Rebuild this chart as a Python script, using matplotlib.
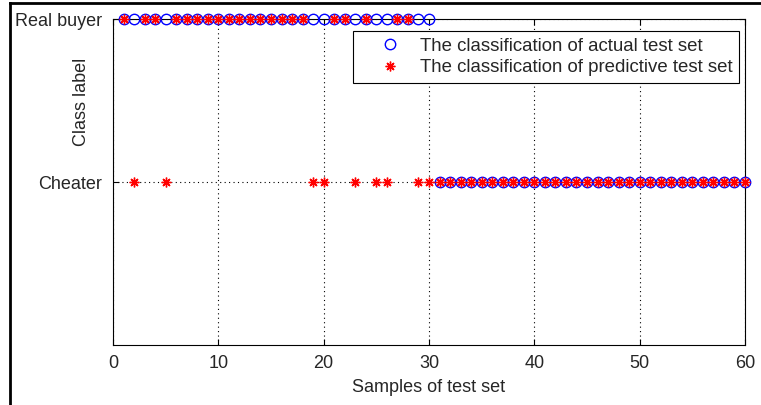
import matplotlib
matplotlib.use("Agg")
import matplotlib.pyplot as plt
from matplotlib.lines import Line2D
import numpy as np

plt.rcParams['font.family'] = ['Liberation Sans', 'DejaVu Sans']

# Data: class labels, 2 = Real buyer, 1 = Cheater
samples = list(range(1, 61))
actual = [2] * 30 + [1] * 30
pred_cheater_in_first_half = [2, 5, 19, 20, 23, 25, 26, 29, 30]
predicted = [1 if (s in pred_cheater_in_first_half or s > 30) else 2 for s in samples]

ytick_vals = [1, 2]
ytick_labels = ['Cheater', 'Real buyer']
xtick_vals = [0, 10, 20, 30, 40, 50, 60]

TXT = '#262626'
FS = 13

fig = plt.figure(figsize=(7.61, 4.05), dpi=100)
ax = fig.add_axes([0.1485, 0.148, 0.979 - 0.1485, 0.953 - 0.148])

ax.plot(samples, actual, linestyle='none', marker='o', markersize=7.5,
        markerfacecolor='none', markeredgecolor='#0000ff', markeredgewidth=1.0,
        label='The classification of actual test set', clip_on=False, zorder=3)
ax.plot(samples, predicted, linestyle='none', marker=(8, 2, 0), markersize=7,
        color='#ff0000', markeredgewidth=1.0,
        label='The classification of predictive test set', clip_on=False, zorder=4)

ax.set_xlim(0, 60)
ax.set_ylim(0, 2)
ax.set_xticks(xtick_vals)
ax.set_yticks(ytick_vals)
ax.set_yticklabels(ytick_labels)
ax.tick_params(direction='in', length=4, labelsize=FS, colors='black', labelcolor=TXT,
               top=True, right=True, labeltop=False, labelright=False)
ax.tick_params(axis='y', pad=8)
ax.tick_params(axis='x', pad=7)
ax.grid(True, linestyle=(0, (1, 3)), color='black', linewidth=0.8)
for s in ax.spines.values():
    s.set_linewidth(0.8)

ax.set_xlabel('Samples of test set', fontsize=FS, color=TXT)
ax.xaxis.set_label_coords(0.5, -0.103)
ax.set_ylabel('Class label', fontsize=FS, color=TXT)
ax.yaxis.set_label_coords(-0.036, 0.745)

leg = ax.legend(loc='upper right', bbox_to_anchor=(0.990, 0.963), borderaxespad=0,
                fontsize=13.4, frameon=True, fancybox=False, edgecolor='black', framealpha=1,
                borderpad=0.35, handletextpad=0.0, labelspacing=0.25, handlelength=3.2)
leg.get_frame().set_linewidth(0.8)
for t in leg.get_texts():
    t.set_color(TXT)

# outer image border (top and left)
fig.add_artist(Line2D([0.013, 1.0], [0.992, 0.992], transform=fig.transFigure, color='black', linewidth=2))
fig.add_artist(Line2D([0.013, 0.013], [0.0, 0.992], transform=fig.transFigure, color='black', linewidth=2))

fig.savefig('out.png', dpi=100)
